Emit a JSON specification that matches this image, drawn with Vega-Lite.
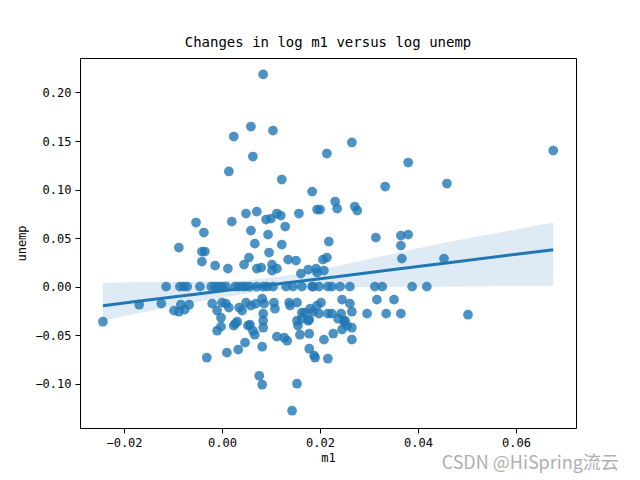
{
  "$schema": "https://vega.github.io/schema/vega-lite/v6.json",
  "autosize": {"type": "none"},
  "padding": {"left": 80, "top": 58, "right": 64, "bottom": 52},
  "width": 496,
  "height": 370,
  "background": "white",
  "title": {"text": "Changes in log m1 versus log unemp", "font": "DejaVu Sans Mono", "fontSize": 14, "fontWeight": "normal", "color": "black", "offset": 8},
  "config": {
    "view": {"stroke": "black", "strokeWidth": 1},
    "axis": {"labelFont": "DejaVu Sans Mono", "labelFontSize": 12, "titleFont": "DejaVu Sans Mono", "titleFontSize": 12, "titleFontWeight": "normal", "labelColor": "black", "titleColor": "black", "tickColor": "black", "tickSize": 5, "tickWidth": 1, "labelPadding": 4, "domain": false, "grid": false}
  },
  "datasets": {
    "pts": [
      {"m1": -0.0243, "unemp": -0.0361}, {"m1": -0.0169, "unemp": -0.0186}, {"m1": -0.0124, "unemp": -0.0175},
      {"m1": -0.0098, "unemp": -0.0247}, {"m1": -0.0088, "unemp": -0.0258}, {"m1": -0.0084, "unemp": -0.0186},
      {"m1": -0.0076, "unemp": -0.0237}, {"m1": -0.0067, "unemp": -0.0186}, {"m1": -0.0088, "unemp": 0.0402},
      {"m1": -0.0053, "unemp": 0.0660}, {"m1": -0.0037, "unemp": 0.0557}, {"m1": -0.0041, "unemp": 0.0361},
      {"m1": -0.0035, "unemp": 0.0361}, {"m1": -0.0041, "unemp": 0.0258}, {"m1": -0.0014, "unemp": 0.0216},
      {"m1": 0.0012, "unemp": 0.0186}, {"m1": 0.0014, "unemp": 0.1186}, {"m1": 0.0020, "unemp": 0.0670},
      {"m1": 0.0024, "unemp": 0.1546}, {"m1": 0.0045, "unemp": 0.0227}, {"m1": 0.0049, "unemp": 0.0753},
      {"m1": 0.0055, "unemp": 0.0299}, {"m1": 0.0059, "unemp": 0.1649}, {"m1": 0.0059, "unemp": 0.0577},
      {"m1": 0.0063, "unemp": 0.1340}, {"m1": 0.0067, "unemp": 0.0443}, {"m1": 0.0071, "unemp": 0.0773},
      {"m1": 0.0071, "unemp": 0.0186}, {"m1": 0.0080, "unemp": 0.0196}, {"m1": 0.0084, "unemp": 0.2186},
      {"m1": 0.0090, "unemp": 0.0691}, {"m1": 0.0094, "unemp": 0.0536}, {"m1": 0.0096, "unemp": 0.0351},
      {"m1": 0.0100, "unemp": 0.0701}, {"m1": 0.0102, "unemp": 0.0227}, {"m1": 0.0102, "unemp": 0.0165},
      {"m1": 0.0104, "unemp": 0.1608}, {"m1": 0.0112, "unemp": 0.0753}, {"m1": 0.0112, "unemp": 0.0186},
      {"m1": 0.0120, "unemp": 0.0732}, {"m1": 0.0122, "unemp": 0.1103}, {"m1": 0.0122, "unemp": 0.0433},
      {"m1": 0.0129, "unemp": 0.0619}, {"m1": 0.0135, "unemp": 0.0278}, {"m1": 0.0151, "unemp": 0.0268},
      {"m1": 0.0157, "unemp": 0.0753}, {"m1": 0.0161, "unemp": 0.0134}, {"m1": 0.0176, "unemp": 0.0175},
      {"m1": 0.0184, "unemp": 0.0979}, {"m1": 0.0192, "unemp": 0.0186}, {"m1": 0.0194, "unemp": 0.0794},
      {"m1": 0.0194, "unemp": 0.0144}, {"m1": 0.0206, "unemp": 0.0278}, {"m1": 0.0214, "unemp": 0.1371},
      {"m1": 0.0214, "unemp": 0.0299}, {"m1": 0.0218, "unemp": 0.0464}, {"m1": 0.0208, "unemp": 0.0165},
      {"m1": 0.0231, "unemp": 0.0876}, {"m1": 0.0235, "unemp": 0.0804}, {"m1": 0.0265, "unemp": 0.1485},
      {"m1": 0.0271, "unemp": 0.0825}, {"m1": 0.0276, "unemp": 0.0784}, {"m1": 0.0200, "unemp": 0.0794},
      {"m1": 0.0314, "unemp": 0.0505}, {"m1": 0.0333, "unemp": 0.1031}, {"m1": 0.0365, "unemp": 0.0526},
      {"m1": 0.0380, "unemp": 0.0536}, {"m1": 0.0365, "unemp": 0.0423}, {"m1": 0.0367, "unemp": 0.0289},
      {"m1": 0.0380, "unemp": 0.1278}, {"m1": 0.0453, "unemp": 0.0289}, {"m1": 0.0459, "unemp": 0.1062},
      {"m1": 0.0676, "unemp": 0.1402},
      {"m1": -0.0114, "unemp": 0}, {"m1": -0.0086, "unemp": 0}, {"m1": -0.0078, "unemp": 0}, {"m1": -0.0071, "unemp": 0},
      {"m1": -0.0045, "unemp": 0}, {"m1": -0.0022, "unemp": 0}, {"m1": -0.0014, "unemp": 0}, {"m1": -0.0008, "unemp": 0},
      {"m1": 0.0000, "unemp": 0}, {"m1": 0.0008, "unemp": 0}, {"m1": 0.0027, "unemp": 0}, {"m1": 0.0035, "unemp": 0},
      {"m1": 0.0043, "unemp": 0}, {"m1": 0.0049, "unemp": 0}, {"m1": 0.0057, "unemp": 0}, {"m1": 0.0071, "unemp": 0},
      {"m1": 0.0084, "unemp": 0}, {"m1": 0.0092, "unemp": 0}, {"m1": 0.0104, "unemp": 0}, {"m1": 0.0131, "unemp": 0},
      {"m1": 0.0145, "unemp": 0}, {"m1": 0.0163, "unemp": 0}, {"m1": 0.0184, "unemp": 0}, {"m1": 0.0186, "unemp": 0},
      {"m1": 0.0198, "unemp": 0}, {"m1": 0.0216, "unemp": 0}, {"m1": 0.0224, "unemp": 0}, {"m1": 0.0241, "unemp": 0},
      {"m1": 0.0261, "unemp": 0}, {"m1": 0.0312, "unemp": 0}, {"m1": 0.0327, "unemp": 0}, {"m1": 0.0388, "unemp": 0},
      {"m1": 0.0418, "unemp": 0},
      {"m1": -0.0020, "unemp": -0.0175}, {"m1": -0.0010, "unemp": -0.0247}, {"m1": -0.0002, "unemp": -0.0320},
      {"m1": 0.0000, "unemp": -0.0165}, {"m1": 0.0008, "unemp": -0.0175}, {"m1": 0.0014, "unemp": -0.0216},
      {"m1": 0.0024, "unemp": -0.0402}, {"m1": 0.0031, "unemp": -0.0361}, {"m1": 0.0035, "unemp": -0.0216},
      {"m1": 0.0041, "unemp": -0.0247}, {"m1": 0.0049, "unemp": -0.0165}, {"m1": 0.0053, "unemp": -0.0402},
      {"m1": 0.0059, "unemp": -0.0196}, {"m1": 0.0063, "unemp": -0.0454}, {"m1": 0.0067, "unemp": -0.0495},
      {"m1": 0.0069, "unemp": -0.0175}, {"m1": 0.0082, "unemp": -0.0124}, {"m1": 0.0086, "unemp": -0.0175},
      {"m1": 0.0084, "unemp": -0.0351}, {"m1": 0.0084, "unemp": -0.0423}, {"m1": 0.0084, "unemp": -0.0278},
      {"m1": 0.0106, "unemp": -0.0165}, {"m1": 0.0108, "unemp": -0.0227}, {"m1": 0.0112, "unemp": -0.0515},
      {"m1": 0.0127, "unemp": -0.0526}, {"m1": 0.0133, "unemp": -0.0557}, {"m1": 0.0137, "unemp": -0.0165},
      {"m1": 0.0153, "unemp": -0.0165}, {"m1": 0.0153, "unemp": -0.0351}, {"m1": 0.0155, "unemp": -0.0402},
      {"m1": 0.0163, "unemp": -0.0268}, {"m1": 0.0159, "unemp": -0.0495}, {"m1": 0.0169, "unemp": -0.0268},
      {"m1": 0.0178, "unemp": -0.0340}, {"m1": 0.0178, "unemp": -0.0485}, {"m1": 0.0186, "unemp": -0.0258},
      {"m1": 0.0194, "unemp": -0.0196}, {"m1": 0.0198, "unemp": -0.0278}, {"m1": 0.0208, "unemp": -0.0546},
      {"m1": 0.0216, "unemp": -0.0278}, {"m1": -0.0010, "unemp": -0.0454}, {"m1": 0.0047, "unemp": -0.0577},
      {"m1": 0.0033, "unemp": -0.0649}, {"m1": 0.0010, "unemp": -0.0680}, {"m1": -0.0031, "unemp": -0.0732},
      {"m1": 0.0082, "unemp": -0.0619}, {"m1": 0.0076, "unemp": -0.0918}, {"m1": 0.0082, "unemp": -0.1010},
      {"m1": 0.0153, "unemp": -0.1000}, {"m1": 0.0143, "unemp": -0.1278}, {"m1": 0.0178, "unemp": -0.0639},
      {"m1": 0.0188, "unemp": -0.0711}, {"m1": 0.0190, "unemp": -0.0732}, {"m1": 0.0216, "unemp": -0.0742},
      {"m1": 0.0202, "unemp": -0.0165}, {"m1": 0.0245, "unemp": -0.0134}, {"m1": 0.0261, "unemp": -0.0175},
      {"m1": 0.0316, "unemp": -0.0134}, {"m1": 0.0351, "unemp": -0.0134}, {"m1": 0.0224, "unemp": -0.0278},
      {"m1": 0.0243, "unemp": -0.0278}, {"m1": 0.0296, "unemp": -0.0278}, {"m1": 0.0335, "unemp": -0.0278},
      {"m1": 0.0365, "unemp": -0.0278}, {"m1": 0.0502, "unemp": -0.0289}, {"m1": 0.0265, "unemp": -0.0258},
      {"m1": 0.0237, "unemp": -0.0330}, {"m1": 0.0249, "unemp": -0.0361}, {"m1": 0.0245, "unemp": -0.0443},
      {"m1": 0.0265, "unemp": -0.0423}, {"m1": 0.0227, "unemp": -0.0485}, {"m1": 0.0265, "unemp": -0.0546},
      {"m1": 0.0139, "unemp": -0.0196}, {"m1": 0.0180, "unemp": -0.0227}, {"m1": 0.0251, "unemp": -0.0351},
      {"m1": 0.0163, "unemp": -0.0330}, {"m1": 0.0176, "unemp": -0.0351}, {"m1": 0.0255, "unemp": -0.0402},
      {"m1": -0.0002, "unemp": -0.0412}, {"m1": 0.0027, "unemp": -0.0381}, {"m1": 0.0057, "unemp": -0.0392}
    ],
    "fit": [
      {"m1": -0.0243, "lo": -0.0351, "hi": 0.0041, "fit": -0.0196},
      {"m1": -0.0176, "lo": -0.0278, "hi": 0.0046, "fit": -0.0154},
      {"m1": -0.0050, "lo": -0.0155, "hi": 0.0052, "fit": -0.0075},
      {"m1": 0.0050, "lo": -0.0072, "hi": 0.0062, "fit": -0.0012},
      {"m1": 0.0150, "lo": -0.0015, "hi": 0.0124, "fit": 0.0050},
      {"m1": 0.0250, "lo": -0.0005, "hi": 0.0227, "fit": 0.0113},
      {"m1": 0.0350, "lo": 0.0000, "hi": 0.0340, "fit": 0.0176},
      {"m1": 0.0450, "lo": 0.0000, "hi": 0.0450, "fit": 0.0239},
      {"m1": 0.0676, "lo": 0.0010, "hi": 0.0660, "fit": 0.0380}
    ],
    "mark": [
      {"m1": 0.0629, "unemp": -0.1830, "label": "CSDN @HiSpring流云"}
    ]
  },
  "layer": [
    {
      "data": {"name": "pts"},
      "mark": {"type": "circle", "size": 95, "color": "#1f77b4", "opacity": 0.8, "strokeWidth": 0},
      "encoding": {
        "x": {"field": "m1", "type": "quantitative", "scale": {"domain": [-0.02898, 0.07224], "nice": false, "zero": false},
              "axis": {"title": "m1", "values": [-0.02, 0, 0.02, 0.04, 0.06], "format": ".2f", "titlePadding": 4}},
        "y": {"field": "unemp", "type": "quantitative", "scale": {"domain": [-0.1456, 0.2355], "nice": false, "zero": false},
              "axis": {"title": "unemp", "values": [-0.1, -0.05, 0, 0.05, 0.1, 0.15, 0.2], "format": ".2f", "titlePadding": 6}}
      }
    },
    {
      "data": {"name": "fit"},
      "mark": {"type": "area", "color": "#1f77b4", "opacity": 0.15},
      "encoding": {
        "x": {"field": "m1", "type": "quantitative"},
        "y": {"field": "lo", "type": "quantitative"},
        "y2": {"field": "hi"}
      }
    },
    {
      "data": {"name": "fit"},
      "mark": {"type": "line", "color": "#1f77b4", "strokeWidth": 3},
      "encoding": {
        "x": {"field": "m1", "type": "quantitative"},
        "y": {"field": "fit", "type": "quantitative"}
      }
    },
    {
      "data": {"name": "mark"},
      "mark": {"type": "text", "font": "Noto Sans CJK SC", "fontSize": 18, "color": "#b0b0b0", "align": "center", "baseline": "middle", "clip": false},
      "encoding": {
        "x": {"field": "m1", "type": "quantitative"},
        "y": {"field": "unemp", "type": "quantitative"},
        "text": {"field": "label"}
      }
    }
  ]
}
